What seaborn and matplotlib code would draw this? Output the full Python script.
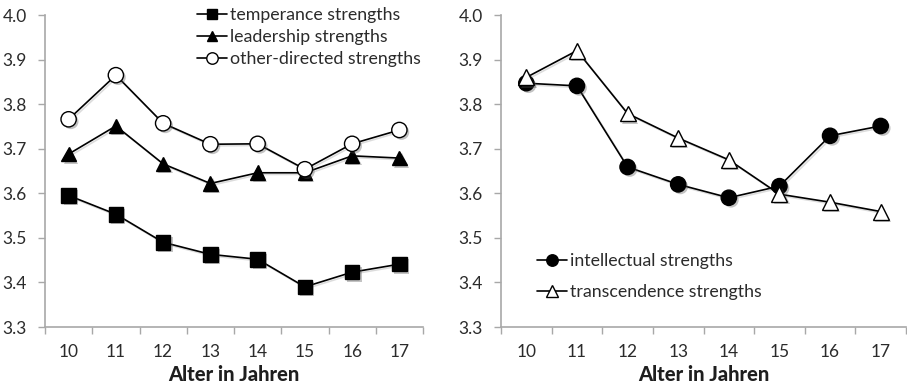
import matplotlib
matplotlib.use("Agg")
import matplotlib.pyplot as plt
import matplotlib.patheffects as pe
from matplotlib.lines import Line2D
from matplotlib.ticker import FixedLocator, NullFormatter
import seaborn as sns

# Mean character-strength scores by age
ages = [10, 11, 12, 13, 14, 15, 16, 17]

temperance = [3.595, 3.553, 3.490, 3.463, 3.452, 3.390, 3.423, 3.441]
leadership = [3.688, 3.751, 3.666, 3.622, 3.646, 3.646, 3.684, 3.679]
other_directed = [3.766, 3.865, 3.757, 3.710, 3.711, 3.654, 3.711, 3.742]

intellectual = [3.847, 3.841, 3.659, 3.620, 3.590, 3.616, 3.729, 3.751]
transcendence = [3.860, 3.920, 3.779, 3.724, 3.675, 3.598, 3.580, 3.559]

left_labels = ["temperance strengths", "leadership strengths", "other-directed strengths"]
right_labels = ["intellectual strengths", "transcendence strengths"]
y_ticks = [3.3, 3.4, 3.5, 3.6, 3.7, 3.8, 3.9, 4.0]
x_label = "Alter in Jahren"

sns.set_theme(style="white")
plt.rcParams["font.family"] = ["Lato", "DejaVu Sans"]

GREY = "#a8a8a8"
TEXT = "#2b2b2b"

fig = plt.figure(figsize=(9.07, 3.87), dpi=100)
ax_l = fig.add_axes([45 / 907, 1 - 327 / 387, (423 - 45) / 907, 312 / 387])
ax_r = fig.add_axes([501 / 907, 1 - 327 / 387, (906 - 501) / 907, 312 / 387])

shadow = [pe.SimplePatchShadow(offset=(1.6, -1.6), shadow_rgbFace="#555555", alpha=0.35), pe.Normal()]
line_shadow = [pe.SimpleLineShadow(offset=(1.2, -1.2), shadow_color="#777777", alpha=0.25), pe.Normal()]


def draw_series(ax, values):
    sns.lineplot(x=ages, y=values, ax=ax, color="black", linewidth=1.2,
                 path_effects=line_shadow, zorder=2)


def draw_markers(ax, values, marker, face, size):
    sns.lineplot(x=ages, y=values, ax=ax, color="black", linestyle="none",
                 marker=marker, markersize=size, markerfacecolor=face,
                 markeredgecolor="black", markeredgewidth=1.0,
                 path_effects=shadow, zorder=3)


left_specs = [(temperance, "s", "black", 10.5),
              (leadership, "^", "black", 10.5),
              (other_directed, "o", "white", 11)]
right_specs = [(intellectual, "o", "black", 11),
               (transcendence, "^", "white", 11.5)]

for ax, specs in ((ax_l, left_specs), (ax_r, right_specs)):
    for vals, m, f, s in specs:
        draw_series(ax, vals)
    for vals, m, f, s in specs:
        draw_markers(ax, vals, m, f, s)

for ax in (ax_l, ax_r):
    ax.set_xlim(9.5, 17.5)
    ax.set_ylim(3.3, 4.0)
    ax.set_yticks(y_ticks)
    ax.set_yticklabels([f"{v:.1f}" for v in y_ticks])
    ax.xaxis.set_major_locator(FixedLocator([a - 0.5 for a in ages] + [17.5]))
    ax.xaxis.set_major_formatter(NullFormatter())
    ax.xaxis.set_minor_locator(FixedLocator(ages))
    ax.set_xticklabels([str(a) for a in ages], minor=True)
    ax.tick_params(axis="x", which="major", direction="out", length=5, width=1.0,
                   color=GREY, bottom=True)
    ax.tick_params(axis="x", which="minor", length=0, pad=12, labelsize=12.5,
                   labelcolor=TEXT, bottom=True)
    ax.tick_params(axis="y", direction="out", length=5, width=1.0, color=GREY,
                   pad=8, labelsize=12.5, labelcolor=TEXT, left=True)
    for side in ("top", "right"):
        ax.spines[side].set_visible(False)
    for side in ("left", "bottom"):
        ax.spines[side].set_color(GREY)
        ax.spines[side].set_linewidth(1.2)
    ax.set_xlabel(x_label, fontsize=14.5, fontweight="black", color="#1e1e1e", labelpad=4)
    ax.set_ylabel("")
    ax.grid(False)


def handles(specs):
    return [Line2D([], [], color="black", linewidth=1.2, marker=m, markersize=s * 0.75,
                   markerfacecolor=f, markeredgecolor="black", markeredgewidth=1.0)
            for _, m, f, s in specs]


ax_l.legend(handles(left_specs), left_labels, loc="upper left",
            bbox_to_anchor=(152 / 378, 1.025), frameon=False, fontsize=12.8,
            handlelength=1.7, handletextpad=0.15, labelspacing=0.33,
            borderaxespad=0, borderpad=0, labelcolor=TEXT)
ax_r.legend(handles(right_specs), right_labels, loc="upper left",
            bbox_to_anchor=(36 / 405, (327 - 253) / 312), frameon=False, fontsize=12.8,
            handlelength=1.7, handletextpad=0.15, labelspacing=0.85,
            borderaxespad=0, borderpad=0, labelcolor=TEXT)

fig.savefig("out.png", dpi=100)
